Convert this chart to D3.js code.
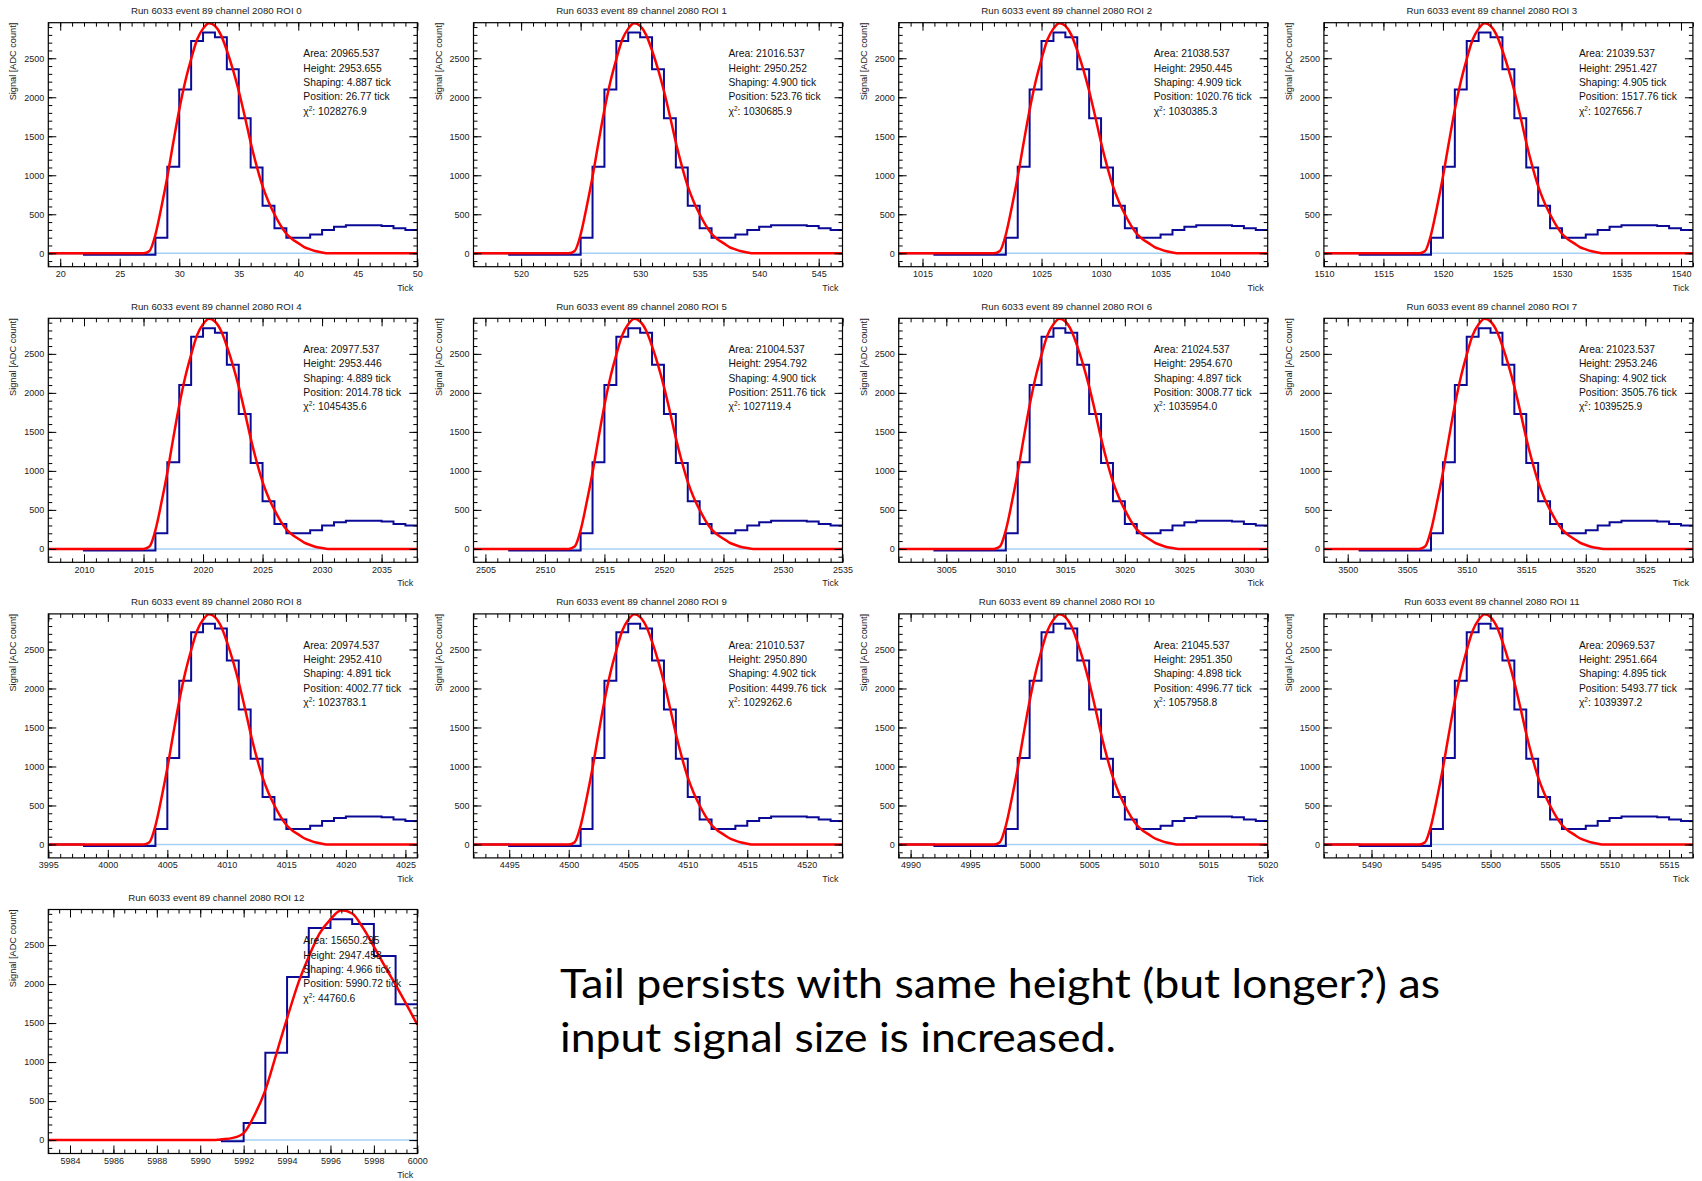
<!DOCTYPE html>
<html>
<head>
<meta charset="utf-8">
<script src="https://cdn.jsdelivr.net/npm/d3@7"></script>
<style>
  body { margin: 0; background: #fff; }
  svg { display: block; }
</style>
</head>
<body>
<div id="chart"></div>
<script>
// ROI start tick of each of the first 12 panels (each ROI is 31 ticks wide)
const startTicks = [19, 516, 1013, 1510, 2007, 2504, 3001, 3498, 3995, 4492, 4989, 5486];
const roiWidth = 31;

const binCounts = [0, 0, 0, -20, -20, -20, -20, -20, -20, 200, 1110, 2100, 2720, 2830, 2770,
    2360, 1730, 1100, 610, 320, 200, 200, 240, 300, 340, 360, 360, 360, 350, 320, 300];

const fitTicks = [19, 27, 27.5, 28, 28.5, 29, 29.5, 30, 30.5, 31, 31.5, 32, 32.5, 33, 33.5, 34,
    34.5, 35, 35.5, 36, 36.5, 37, 37.5, 38, 38.5, 39, 39.5, 40, 40.5, 41, 41.5, 42, 42.5, 50];
const fitValues = [0, 0, 30, 240, 590, 980, 1420, 1840, 2200, 2490, 2740, 2880, 2950, 2915, 2800, 2600,
    2360, 2080, 1760, 1420, 1120, 860, 660, 500, 360, 250, 180, 130, 80, 50, 25, 10, 0, 0];

// last ROI (12) is truncated at the end of the readout window
const lastStart = 5983, lastEnd = 6000;
const lastCounts = [0, 0, 0, 0, 0, 0, 0, 0, -15, 220, 1120, 2090, 2720, 2830, 2770, 2360, 1740];
const lastFitTicks = [5983, 5990.5, 5991, 5991.5, 5992, 5992.5, 5993, 5993.5, 5994, 5994.5, 5995,
    5995.5, 5996, 5996.5, 5997, 5997.5, 5998, 5998.5, 5999, 5999.5, 6000];
const lastFitValues = [0, 0, 10, 28, 90, 320, 640, 1100, 1560, 2000, 2350,
    2650, 2830, 2945, 2905, 2720, 2480, 2230, 1990, 1740, 1480];

// fit results printed in each panel
const areas = ["20965.537", "21016.537", "21038.537", "21039.537", "20977.537", "21004.537", "21024.537",
    "21023.537", "20974.537", "21010.537", "21045.537", "20969.537", "15650.295"];
const heights = ["2953.655", "2950.252", "2950.445", "2951.427", "2953.446", "2954.792", "2954.670",
    "2953.246", "2952.410", "2950.890", "2951.350", "2951.664", "2947.458"];
const shapings = ["4.887", "4.900", "4.909", "4.905", "4.889", "4.900", "4.897",
    "4.902", "4.891", "4.902", "4.898", "4.895", "4.966"];
const positions = ["26.77", "523.76", "1020.76", "1517.76", "2014.78", "2511.76", "3008.77",
    "3505.76", "4002.77", "4499.76", "4996.77", "5493.77", "5990.72"];
const chi2s = ["1028276.9", "1030685.9", "1030385.3", "1027656.7", "1045435.6", "1027119.4", "1035954.0",
    "1039525.9", "1023783.1", "1029262.6", "1057958.8", "1039397.2", "44760.6"];

const yTicks = [0, 500, 1000, 1500, 2000, 2500];
const yDomain = [-172, 2956];

const W = 1702, H = 1181;
const frame = {left: 48.3, top: 22.7, dx: 425.2, dy: 295.6, width: 369, height: 244};
const font = "'Liberation Sans', Arial, Helvetica, sans-serif";

const svg = d3.select("#chart").append("svg")
    .attr("width", W)
    .attr("height", H)
    .style("font-family", font);

// build the panel list
var panels = startTicks.map(function (s, i) {
    const shift = s - startTicks[0];
    return {
        roi: i,
        x0: s, x1: s + roiWidth,
        bins: binCounts.map((v, j) => ({x: s + j, y: v})),
        fit: fitTicks.map((t, j) => ({x: t + shift, y: fitValues[j]})),
        major: 5, minor: 1
    };
});
panels.push({
    roi: 12,
    x0: lastStart, x1: lastEnd,
    bins: lastCounts.map((v, j) => ({x: lastStart + j, y: v})),
    fit: lastFitTicks.map((t, j) => ({x: t, y: lastFitValues[j]})),
    major: 2, minor: 0.5
});

panels.forEach(function (p, i) {
    const col = i % 4, row = Math.floor(i / 4);
    const w = frame.width, h = frame.height;
    const g = svg.append("g")
        .attr("transform", `translate(${frame.left + col * frame.dx},${frame.top + row * frame.dy})`);

    const x = d3.scaleLinear().domain([p.x0, p.x1]).range([0, w]);
    const y = d3.scaleLinear().domain(yDomain).range([h, 0]);

    const clipId = "clip" + i;
    g.append("clipPath").attr("id", clipId)
        .append("rect").attr("width", w).attr("height", h);
    const plot = g.append("g").attr("clip-path", `url(#${clipId})`);

    // baseline
    plot.append("line")
        .attr("x1", x(p.x0)).attr("x2", x(p.x1))
        .attr("y1", y(0)).attr("y2", y(0))
        .attr("stroke", "#a6d0f4")
        .attr("stroke-width", 1.5);

    // histogram
    const last = p.bins[p.bins.length - 1];
    const steps = p.bins.concat([{x: last.x + 1, y: last.y}]);
    plot.append("path")
        .datum(steps)
        .attr("d", d3.line().x(d => x(d.x)).y(d => y(d.y)).curve(d3.curveStepAfter))
        .attr("fill", "none")
        .attr("stroke", "#0a0a96")
        .attr("stroke-width", 2);

    // fit
    plot.append("path")
        .datum(p.fit)
        .attr("d", d3.line().x(d => x(d.x)).y(d => y(d.y)).curve(d3.curveMonotoneX))
        .attr("fill", "none")
        .attr("stroke", "#ff0000")
        .attr("stroke-width", 2.5);

    // ticks (inside, on all four sides)
    const xMajor = d3.range(Math.ceil(p.x0 / p.major) * p.major, p.x1 + 1e-6, p.major);
    const xMinor = d3.range(Math.ceil(p.x0 / p.minor - 1e-6) * p.minor, p.x1 + 1e-6, p.minor);
    const yMinor = d3.range(-100, yDomain[1], 100);

    function styleAxis(sel) {
        sel.select(".domain").remove();
        sel.selectAll("line").attr("stroke", "#000").attr("stroke-width", 1);
        sel.selectAll("text").attr("fill", "#222").style("font-family", font).style("font-size", "9px");
    }

    g.append("g").attr("transform", `translate(0,${h})`)
        .call(d3.axisBottom(x).tickValues(xMajor).tickSize(-8).tickPadding(4).tickFormat(d3.format("d")))
        .call(styleAxis);
    g.append("g").attr("transform", `translate(0,${h})`)
        .call(d3.axisBottom(x).tickValues(xMinor).tickSize(-4).tickFormat(""))
        .call(styleAxis);
    g.append("g")
        .call(d3.axisTop(x).tickValues(xMajor).tickSize(-8).tickFormat(""))
        .call(styleAxis);
    g.append("g")
        .call(d3.axisTop(x).tickValues(xMinor).tickSize(-4).tickFormat(""))
        .call(styleAxis);
    g.append("g")
        .call(d3.axisLeft(y).tickValues(yTicks).tickSize(-8).tickPadding(4).tickFormat(d3.format("d")))
        .call(styleAxis);
    g.append("g")
        .call(d3.axisLeft(y).tickValues(yMinor).tickSize(-4).tickFormat(""))
        .call(styleAxis);
    g.append("g").attr("transform", `translate(${w},0)`)
        .call(d3.axisRight(y).tickValues(yTicks).tickSize(-8).tickFormat(""))
        .call(styleAxis);
    g.append("g").attr("transform", `translate(${w},0)`)
        .call(d3.axisRight(y).tickValues(yMinor).tickSize(-4).tickFormat(""))
        .call(styleAxis);

    // frame
    g.append("rect")
        .attr("width", w).attr("height", h)
        .attr("fill", "none")
        .attr("stroke", "#000")
        .attr("stroke-width", 1.2);

    // title and axis titles
    g.append("text")
        .attr("x", 168).attr("y", -8.5)
        .attr("text-anchor", "middle")
        .style("font-size", "9.7px")
        .attr("fill", "#222")
        .text(`Run 6033 event 89 channel 2080 ROI ${p.roi}`);
    g.append("text")
        .attr("x", w - 4).attr("y", h + 24)
        .attr("text-anchor", "end")
        .style("font-size", "9px")
        .attr("fill", "#222")
        .text("Tick");
    g.append("text")
        .attr("transform", "translate(-32,0) rotate(-90)")
        .attr("text-anchor", "end")
        .style("font-size", "9.2px")
        .attr("fill", "#222")
        .text("Signal [ADC count]");

    // fit results
    const stats = g.append("text")
        .attr("x", 255).attr("y", 20.5)
        .style("font-size", "10.3px")
        .attr("fill", "#111");
    const lines = [
        "Area: " + areas[i],
        "Height: " + heights[i],
        "Shaping: " + shapings[i] + " tick",
        "Position: " + positions[i] + " tick"
    ];
    lines.forEach(function (t) {
        stats.append("tspan").attr("x", 255).attr("dy", 14.3).text(t);
    });
    const chi = stats.append("tspan").attr("x", 255).attr("dy", 14.3);
    chi.append("tspan").text("\u03C7");
    chi.append("tspan").attr("dy", -4).style("font-size", "6.5px").text("2");
    stats.append("tspan").attr("dy", 4).text(": " + chi2s[i]);
});

// slide comment
const note = svg.append("g")
    .style("font-family", "Lato, 'Open Sans', sans-serif")
    .style("font-size", "40px")
    .attr("fill", "#000");
note.append("text")
    .attr("x", 560).attr("y", 998)
    .attr("textLength", 880).attr("lengthAdjust", "spacingAndGlyphs")
    .text("Tail persists with same height (but longer?) as");
note.append("text")
    .attr("x", 560).attr("y", 1052)
    .attr("textLength", 556).attr("lengthAdjust", "spacingAndGlyphs")
    .text("input signal size is increased.");
</script>
</body>
</html>
